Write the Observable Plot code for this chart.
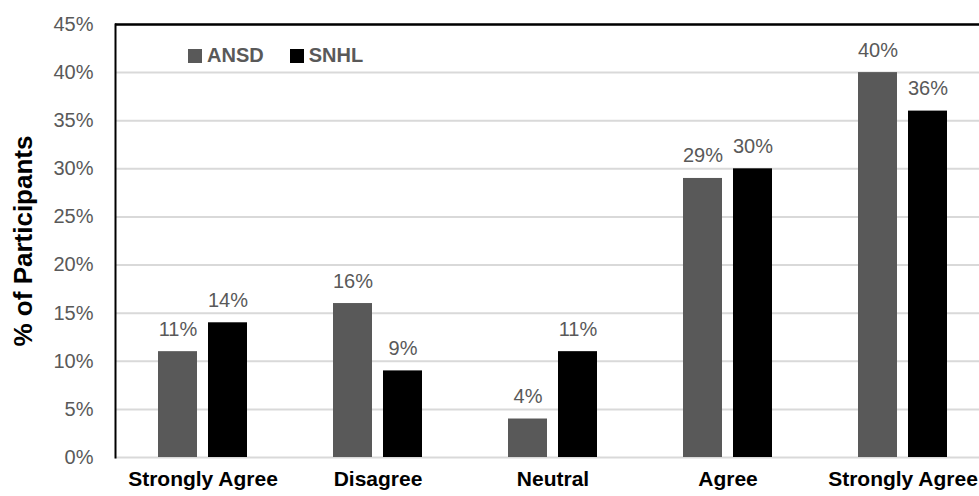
<!DOCTYPE html>
<html><head><meta charset="utf-8">
<script src="https://cdn.jsdelivr.net/npm/d3@7"></script>
<script src="https://cdn.jsdelivr.net/npm/@observablehq/plot@0.6"></script>
<style>
body{margin:0;background:#fff;}
#wrap{position:relative;width:979px;height:496px;overflow:hidden;font-family:"Liberation Sans",Arial,sans-serif;}
#legend{position:absolute;left:188px;top:44px;display:flex;align-items:center;font-weight:bold;font-size:20px;color:#595959;}
#legend .sw{display:inline-block;width:14px;height:14px;margin-right:5px;}
#legend .item{display:flex;align-items:center;margin-right:26px;}
</style></head><body><div id="wrap"></div>
<script>
const categoryLabels = ["Strongly Agree","Disagree","Neutral","Agree","Strongly Agree"];
const series = ["ANSD","SNHL"];
const ansdValues = [11,16,4,29,40];
const snhlValues = [14,9,11,30,36];
const yTicks = [0,5,10,15,20,25,30,35,40,45];
const colors = ["#595959","#000000"];

const data = categoryLabels.flatMap((c,i)=>[
  {i, s:"ANSD", v: ansdValues[i]},
  {i, s:"SNHL", v: snhlValues[i]}
]);

const chart = Plot.plot({
  width: 979, height: 496,
  marginLeft: 114, marginRight: -11, marginTop: 24, marginBottom: 39,
  style: {fontFamily: '"Liberation Sans", Arial, sans-serif', fontSize: "20px", background: "white"},
  fx: {domain: d3.range(categoryLabels.length), padding: 0, label: null, axis: null},
  x: {domain: series, paddingInner: 0.22, paddingOuter: 0.86, axis: null},
  y: {domain: [0,45], axis: null},
  color: {domain: series, range: colors},
  marks: [
    Plot.gridY(yTicks, {stroke: "#d9d9d9", strokeOpacity: 1, strokeWidth: 2}),
    Plot.axisY(yTicks, {tickSize: 0, tickPadding: 22, tickFormat: d => d + "%", fill: "#595959", fontSize: 20, label: null}),
    Plot.axisFx({anchor: "bottom", tickSize: 0, tickPadding: 14, fontWeight: "bold", fontSize: 21, tickFormat: i => categoryLabels[i], label: null}),
    Plot.barY(data, {fx: "i", x: "s", y: "v", fill: "s"}),
    Plot.text(data, {fx: "i", x: "s", y: "v", text: d => d.v + "%", dy: -16, lineAnchor: "bottom", fill: "#595959", fontSize: 20}),
    Plot.ruleY([45], {stroke: "black", strokeWidth: 2.5}),
    Plot.frame({anchor: "left", fx: () => 0, stroke: "black", strokeWidth: 2}),
    Plot.text(["% of Participants"], {fx: () => 0, frameAnchor: "left", textAnchor: "middle", rotate: -90, dx: -92, fontWeight: "bold", fontSize: 26, fill: "black"})
  ]
});
const wrap = document.getElementById("wrap");
wrap.appendChild(chart);
const legend = document.createElement("div");
legend.id = "legend";
legend.innerHTML = series.map((s,k)=>`<span class="item"><span class="sw" style="background:${colors[k]}"></span>${s}</span>`).join("");
wrap.appendChild(legend);
</script>
</body></html>
